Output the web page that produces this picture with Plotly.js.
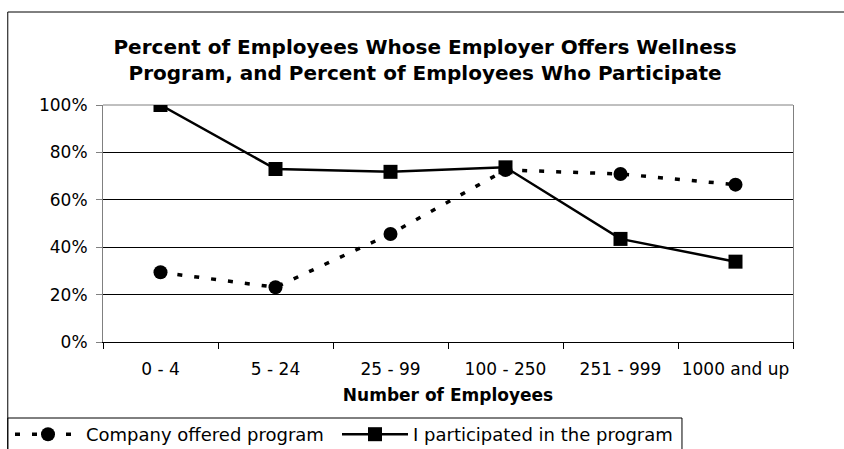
<!DOCTYPE html>
<html>
<head>
<meta charset="utf-8">
<script src="https://cdn.plot.ly/plotly-3.0.1.min.js"></script>
<style>html,body{margin:0;padding:0;background:#fff;}#chart{width:844px;height:449px;}</style>
</head>
<body>
<div id="chart"></div>
<script>
const categories = ["0 - 4", "5 - 24", "25 - 99", "100 - 250", "251 - 999", "1000 and up"];
const offered = [0.294, 0.231, 0.456, 0.726, 0.709, 0.664];
const participated = [1.00, 0.730, 0.718, 0.737, 0.435, 0.339];
const seriesNames = ["Company offered program", "I participated in the program"];
const yTicks = [0, 0.2, 0.4, 0.6, 0.8, 1.0];

const FONT = "DejaVu Sans, Arial, sans-serif";

const traces = [
  {
    x: categories, y: offered, name: seriesNames[0], type: "scatter", mode: "lines+markers",
    line: {color: "#000", width: 3.5, dash: "5px,12px"},
    marker: {symbol: "circle", size: 14, color: "#000"},
    legend: "legend"
  },
  {
    x: categories, y: participated, name: seriesNames[1], type: "scatter", mode: "lines+markers",
    line: {color: "#000", width: 2.5},
    marker: {symbol: "square", size: 14, color: "#000"},
    legend: "legend2"
  }
];

const legendBase = {
  orientation: "h", xref: "container", yref: "container", xanchor: "left", y: 0.0735, yanchor: "top",
  bgcolor: "rgba(0,0,0,0)", borderwidth: 0, itemwidth: 66,
  font: {family: FONT, size: 18, color: "#000"}
};

const layout = {
  width: 844, height: 449,
  margin: {l: 103, r: 51, t: 105, b: 107, autoexpand: false},
  paper_bgcolor: "#fff", plot_bgcolor: "#fff",
  font: {family: FONT, size: 17, color: "#000"},
  title: {
    text: "Percent of Employees Whose Employer Offers Wellness<br>Program, and Percent of Employees Who Participate",
    font: {family: FONT, size: 20, weight: "bold", color: "#000"},
    xref: "container", yref: "container", x: 0.5036, y: 0.879, xanchor: "center", yanchor: "middle"
  },
  xaxis: {
    type: "category", tickson: "boundaries", ticks: "outside", ticklen: 6, tickcolor: "#000",
    showgrid: false, showline: true, linecolor: "#000", linewidth: 1, zeroline: false,
    tickangle: 0, automargin: false, ticklabelstandoff: 12, range: [-0.5, 5.5],
    title: {text: "Number of Employees", font: {family: FONT, size: 17, weight: "bold"}, standoff: 10}
  },
  yaxis: {
    range: [0, 1], tickvals: yTicks, tickformat: ".0%", ticks: "outside", ticklen: 6, tickcolor: "#808080",
    showgrid: true, gridcolor: "#000", gridwidth: 1, showline: true, linecolor: "#808080", mirror: true,
    zeroline: false, automargin: false, ticklabelstandoff: 5
  },
  showlegend: true,
  legend: Object.assign({}, legendBase, {x: 10 / 844}),
  legend2: Object.assign({}, legendBase, {x: 337 / 844}),
  shapes: [
    {type: "line", xref: "paper", yref: "paper", x0: 0, x1: 1, y0: 1, y1: 1, line: {color: "#808080", width: 1}, layer: "between"},
    {type: "line", xref: "paper", yref: "paper", x0: -0.138, x1: 1.1, y0: (342-12)/237, y1: (342-12)/237, line: {color: "#000", width: 1}},
    {type: "line", xref: "paper", yref: "paper", x0: -0.138, x1: -0.138, y0: (342-12)/237, y1: -0.5, line: {color: "#000", width: 1}},
    {type: "rect", xref: "paper", yref: "paper", x0: -0.138, x1: 0.8391, y0: -0.3207, y1: -0.6, line: {color: "#000", width: 1}, fillcolor: "rgba(0,0,0,0)"}
  ]
};

Plotly.newPlot("chart", traces, layout, {displayModeBar: false, staticPlot: true});
</script>
</body>
</html>
